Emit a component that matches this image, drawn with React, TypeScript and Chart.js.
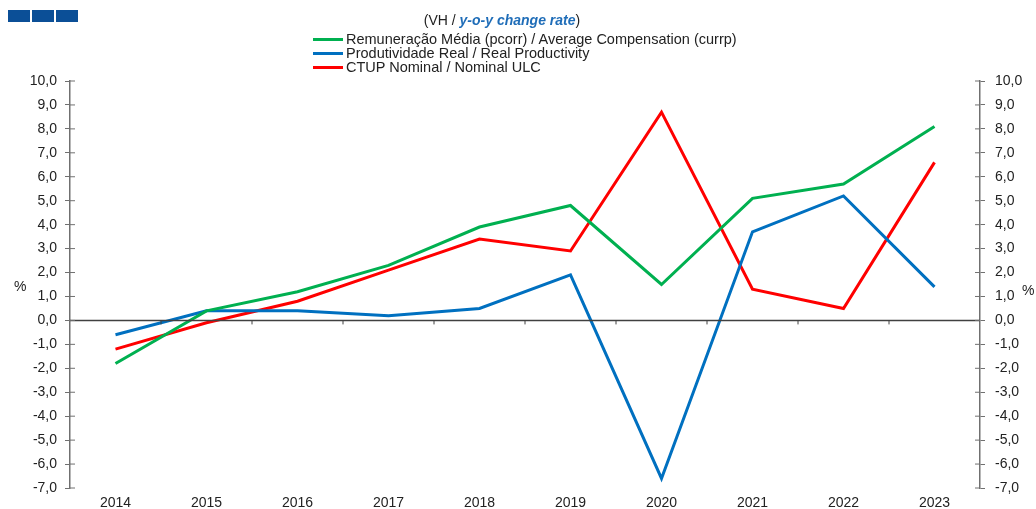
import React, { useEffect, useRef } from "react";
import { Chart, registerables } from "chart.js";

Chart.register(...registerables);

const years = ["2014", "2015", "2016", "2017", "2018", "2019", "2020", "2021", "2022", "2023"];
const compensation = [-1.8, 0.4, 1.2, 2.3, 3.9, 4.8, 1.5, 5.1, 5.7, 8.1];
const productivity = [-0.6, 0.4, 0.4, 0.2, 0.5, 1.9, -6.6, 3.7, 5.2, 1.4];
const ulc = [-1.2, -0.1, 0.8, 2.1, 3.4, 2.9, 8.7, 1.3, 0.5, 6.6];

const seriesNames = [
  "Remuneração Média (pcorr) / Average Compensation (currp)",
  "Produtividade Real / Real Productivity",
  "CTUP Nominal / Nominal ULC",
];
const seriesColors = ["#00B050", "#0070C0", "#FF0000"];

const FONT = "'Liberation Sans', Arial, sans-serif";
const fmt = (v: number) => v.toFixed(1).replace(".", ",");

const zeroLinePlugin = {
  id: "zeroLine",
  afterDatasetsDraw(chart: any) {
    const { ctx, chartArea, scales } = chart;
    const y0 = scales.y.getPixelForValue(0);
    ctx.save();
    ctx.strokeStyle = "#404040";
    ctx.lineWidth = 1.5;
    ctx.beginPath();
    ctx.moveTo(chartArea.left, y0);
    ctx.lineTo(chartArea.right, y0);
    ctx.stroke();
    const n = chart.data.labels.length;
    ctx.lineWidth = 1;
    for (let i = 1; i < n; i++) {
      const x = (scales.x.getPixelForValue(i - 1) + scales.x.getPixelForValue(i)) / 2;
      ctx.beginPath();
      ctx.moveTo(x, y0);
      ctx.lineTo(x, y0 + 4);
      ctx.stroke();
    }
    ctx.strokeStyle = "#707070";
    for (const t of scales.y.ticks) {
      const y = scales.y.getPixelForValue(t.value);
      ctx.beginPath();
      ctx.moveTo(chartArea.left, y);
      ctx.lineTo(chartArea.left + 5, y);
      ctx.moveTo(chartArea.right - 5, y);
      ctx.lineTo(chartArea.right, y);
      ctx.stroke();
    }
    ctx.restore();
  },
};

export default function App() {
  const ref = useRef<HTMLCanvasElement>(null);
  useEffect(() => {
    if (!ref.current) return;
    const data = [compensation, productivity, ulc];
    const chart = new Chart(ref.current, {
      type: "line",
      data: {
        labels: years,
        datasets: data.map((d, i) => ({
          label: seriesNames[i],
          data: d,
          borderColor: seriesColors[i],
          backgroundColor: seriesColors[i],
          borderWidth: 3,
          pointRadius: 0,
          tension: 0,
          yAxisID: "y",
        })),
      },
      options: {
        responsive: false,
        animation: false,
        layout: { padding: { top: 81, left: 0, right: 0, bottom: 0 } },
        plugins: { legend: { display: false }, title: { display: false }, tooltip: { enabled: false } },
        scales: {
          x: {
            offset: true,
            grid: { display: false, drawTicks: false },
            border: { display: false },
            ticks: { color: "#222", font: { family: FONT, size: 14 }, padding: 7, maxRotation: 0 },
            afterFit: (s: any) => { s.height = 21; },
          },
          y: {
            position: "left",
            min: -7,
            max: 10,
            grid: { drawOnChartArea: false, tickLength: 5, color: "#707070" },
            border: { color: "#707070", width: 1.5 },
            ticks: { stepSize: 1, color: "#222", font: { family: FONT, size: 14 }, padding: 8, callback: (v: any) => fmt(Number(v)) },
            afterFit: (s: any) => { s.width = 70; },
          },
          y2: {
            position: "right",
            min: -7,
            max: 10,
            grid: { drawOnChartArea: false, tickLength: 5, color: "#707070" },
            border: { color: "#707070", width: 1.5 },
            ticks: { stepSize: 1, color: "#222", font: { family: FONT, size: 14 }, padding: 10, callback: (v: any) => fmt(Number(v)) },
            afterFit: (s: any) => { s.width = 56; },
          },
        },
      },
      plugins: [zeroLinePlugin],
    });
    return () => chart.destroy();
  }, []);

  const textStyle: React.CSSProperties = { position: "absolute", fontFamily: FONT, fontSize: 14, color: "#222", whiteSpace: "nowrap", lineHeight: "14px" };

  return (
    <div style={{ position: "absolute", left: 0, top: 0, width: 1036, height: 509, background: "#fff", overflow: "hidden" }}>
      <canvas ref={ref} width={1036} height={509} style={{ position: "absolute", left: 0, top: 0 }} />
      {[8, 32, 56].map((x) => (
        <div key={x} style={{ position: "absolute", left: x, top: 10, width: 22, height: 12, background: "#0B4F97" }} />
      ))}
      <div style={{ ...textStyle, left: 0, width: 1004, top: 13, textAlign: "center" }}>
        (VH / <span style={{ color: "#1F6DB8", fontWeight: "bold", fontStyle: "italic" }}>y-o-y change rate</span>)
      </div>
      {seriesNames.map((n, i) => (
        <div key={n} style={{ ...textStyle, fontSize: 14.5, left: 313, top: 32 + i * 14 }}>
          <span style={{ display: "inline-block", width: 30, height: 3, background: seriesColors[i], verticalAlign: "middle", marginRight: 3, marginTop: -2 }} />
          {n}
        </div>
      ))}
      <div style={{ ...textStyle, left: 14, top: 279 }}>%</div>
      <div style={{ ...textStyle, left: 1022, top: 283 }}>%</div>
    </div>
  );
}
